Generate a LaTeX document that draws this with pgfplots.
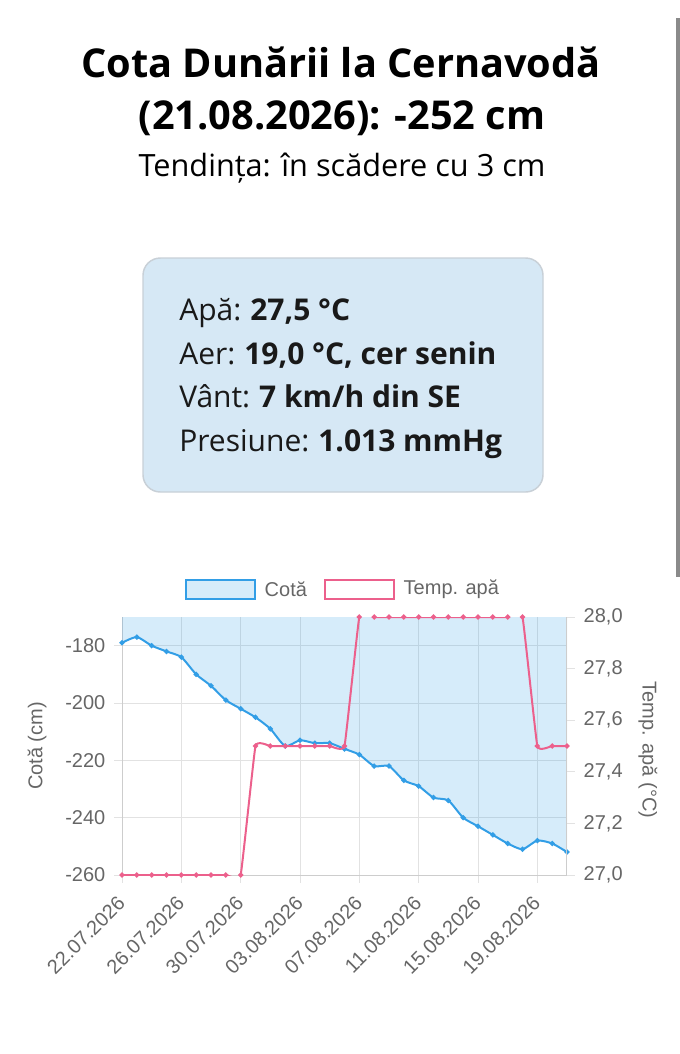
\documentclass[border=0pt]{standalone}
\usepackage{fontspec}
\setmainfont{Open Sans}
\newfontfamily\chartfont{Liberation Sans}
\usepackage{pgfplots}
\usepackage{pgfplotstable}
\pgfplotsset{compat=1.18}
\usepgfplotslibrary{fillbetween}

\definecolor{cotablue}{RGB}{50,158,230}
\definecolor{temppink}{RGB}{236,96,140}
\definecolor{gridgray}{RGB}{226,226,226}
\definecolor{axisgray}{RGB}{205,205,205}
\definecolor{ticktext}{RGB}{102,102,102}
\definecolor{boxfill}{RGB}{214,232,245}
\definecolor{boxline}{RGB}{200,208,215}
\definecolor{scroll}{RGB}{138,138,138}
\newcommand\cf{\chartfont\fontsize{15pt}{18pt}\selectfont}
\newcommand\gap{\hspace{0.3em}}

% day index (0 = 22.07.2026), cota in cm
\pgfplotstableread{
day cota
0  -179
1  -177
2  -180
3  -182
4  -184
5  -190
6  -194
7  -199
8  -202
9  -205
10 -209
11 -215
12 -213
13 -214
14 -214
15 -216
16 -218
17 -222
18 -222
19 -227
20 -229
21 -233
22 -234
23 -240
24 -243
25 -246
26 -249
27 -251
28 -248
29 -249
30 -252
}\cotadata

% water temperature in degrees C
\pgfplotstableread{
day temp
0  27.0
1  27.0
2  27.0
3  27.0
4  27.0
5  27.0
6  27.0
7  27.0
8  27.0
9  27.5
10 27.5
11 27.5
12 27.5
13 27.5
14 27.5
15 27.5
16 28.0
17 28.0
18 28.0
19 28.0
20 28.0
21 28.0
22 28.0
23 28.0
24 28.0
25 28.0
26 28.0
27 28.0
28 27.5
29 27.5
30 27.5
}\tempdata

\pgfplotsset{
  chart/.style={
    at={(91.5pt,-656.25pt)}, anchor=south west,
    width=333.75pt, height=193.5pt, scale only axis,
    xmin=0, xmax=30,
    tick align=outside, major tick length=6pt,
    tick style={gridgray, line width=0.75pt},
    axis line style={-, axisgray, line width=0.75pt},
    tick label style={font=\cf, text=ticktext},
    label style={font=\cf, text=ticktext},
    /pgf/number format/assume math mode=true,
  }
}

\begin{document}
\begin{tikzpicture}
\begin{scope}[x=0.75pt,y=-0.75pt]
  \path (0,0) rectangle (680,1054);
  \fill[scroll] (676,18) rectangle (680,577);
  \node[font=\bfseries\fontsize{29.8pt}{34pt}\selectfont] at (341,62) {Cota Dunării la Cernavodă};
  \node[font=\bfseries\fontsize{29.8pt}{34pt}\selectfont] at (342,118) {(21.08.2026): -252 cm};
  \node[font=\fontsize{23pt}{27pt}\selectfont] at (342,168) {Tendința: în scădere cu 3 cm};
  \draw[boxline, fill=boxfill, line width=1.1pt, rounded corners=13pt] (143,258) rectangle (543,492);
  \begin{scope}[every node/.style={anchor=base west, inner sep=0pt, text=black!90, font=\fontsize{22.5pt}{26pt}\selectfont}]
    \node at (179,320) {Apă:\gap\textbf{27,5 °C}};
    \node at (179,364) {Aer:\gap\textbf{19,0 °C, cer senin}};
    \node at (179,407) {Vânt:\gap\textbf{7 km/h din SE}};
    \node at (179,451) {Presiune:\gap\textbf{1.013 mmHg}};
  \end{scope}
  % legend
  \draw[cotablue, fill=cotablue!20, line width=1.5pt] (186,580) rectangle (255,599);
  \node[anchor=west, text=ticktext, font=\cf] at (260,589.5) {Cotă};
  \draw[temppink, fill=white, line width=1.5pt] (325,580) rectangle (394,599);
  \node[anchor=west, text=ticktext, font=\cf] at (399,589.5) {Temp. apă};
\end{scope}

\begin{axis}[chart,
    ymin=-260, ymax=-170,
    axis x line*=bottom, axis y line*=left,
    xtick={0,4,...,28},
    xticklabels={22.07.2026,26.07.2026,30.07.2026,03.08.2026,07.08.2026,11.08.2026,15.08.2026,19.08.2026},
    xticklabel style={xshift=2pt, yshift=-10pt, rotate=45, anchor=east},
    ytick={-260,-240,...,-180},
    yticklabel style={xshift=-3pt},
    grid=major, grid style={gridgray, line width=0.75pt},
    ylabel={Cotă (cm)},
    ylabel style={at={(axis description cs:-0.191,0.5)}, anchor=center},
]
\addplot[draw=none, smooth, tension=0.4, name path=cota] table[x=day, y=cota] {\cotadata};
\addplot[draw=none, name path=top] coordinates {(0,-170)(30,-170)};
\addplot[cotablue, fill opacity=0.2] fill between[of=cota and top];
\addplot[cotablue, line width=1.5pt, smooth, tension=0.4, mark=*, mark size=1.1pt]
  table[x=day, y=cota] {\cotadata};
\end{axis}

\begin{axis}[chart,
    ymin=27, ymax=28,
    axis x line=none, axis y line*=right,
    ytick={27,27.2,...,28.01},
    yticklabel style={xshift=3pt, /pgf/number format/.cd, fixed, fixed zerofill, precision=1, use comma},
    ylabel={Temp. apă (°C)},
    ylabel style={at={(axis description cs:1.182,0.485)}, anchor=center, rotate=180},
]
\addplot[temppink, line width=1.5pt, smooth, tension=0.18, mark=*, mark size=1.1pt]
  table[x=day, y=temp] {\tempdata};
\end{axis}
\end{tikzpicture}
\end{document}
